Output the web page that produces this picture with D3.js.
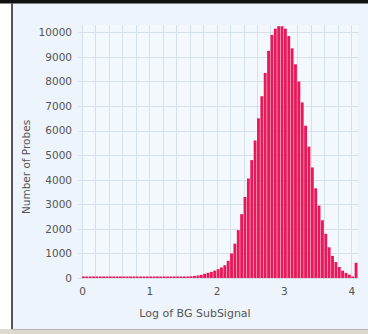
<!DOCTYPE html>
<html>
<head>
<meta charset="utf-8">
<script src="https://cdn.jsdelivr.net/npm/d3@7"></script>
<style>
html,body{margin:0;padding:0;background:#ffffff;}
svg{display:block;}
</style>
</head>
<body>
<svg id="chart" width="368" height="334"></svg>
<script>
// ---- data ----
const binWidth = 0.05;
const counts = [
  30,22,20,24,21,23,25,22,24,26,
  25,27,26,28,27,29,30,31,30,32,
  34,36,35,38,40,42,44,47,50,53,
  56,62,70,82,
  100,130,170,210,250,300,360,430,520,700,
  1000,1400,1950,2600,3300,4050,4800,5600,6500,7400,
  8350,9250,9900,10150,10250,10250,10150,9850,9350,8700,
  8000,7150,6200,5350,4500,3650,2950,2350,1800,1250,
  900,650,450,300,210,140,60,620
];
const binStarts = counts.map((c, i) => +(i * binWidth).toFixed(2));
const xTicks = [0, 1, 2, 3, 4];
const yTicks = [0,1000,2000,3000,4000,5000,6000,7000,8000,9000,10000];
const xGrid = d3.range(0, 21).map(i => +(i * 0.2).toFixed(1));
const xTitle = "Log of BG SubSignal";
const yTitle = "Number of Probes";

// ---- layout ----
const svg = d3.select("#chart");
const W = 368, H = 334;
const plot = {left: 82, right: 358, top: 25, bottom: 278};

const x = d3.scaleLinear().domain([0, 4.1]).range([plot.left, plot.right]);
const y = d3.scaleLinear().domain([0, 10300]).range([plot.bottom, plot.top]);

// frame
svg.append("rect").attr("x", 0).attr("y", 0).attr("width", W).attr("height", H).attr("fill", "#ffffff");
svg.append("rect").attr("x", 12).attr("y", 3).attr("width", W - 12).attr("height", 326)
  .attr("fill", "#edf4fb");
svg.append("rect").attr("x", 0).attr("y", 0).attr("width", W).attr("height", 3.5).attr("fill", "#111");
svg.append("line").attr("x1", 12).attr("x2", 12).attr("y1", 3).attr("y2", 329)
  .attr("stroke", "#555").attr("stroke-width", 2);
svg.append("rect").attr("x", 0).attr("y", 329).attr("width", W).attr("height", 5).attr("fill", "#ddd8d0");
svg.append("line").attr("x1", 12).attr("x2", W).attr("y1", 329.5).attr("y2", 329.5)
  .attr("stroke", "#b8b4ae").attr("stroke-width", 1);

// plot background
svg.append("rect").attr("x", plot.left).attr("y", plot.top)
  .attr("width", plot.right - plot.left).attr("height", plot.bottom - plot.top)
  .attr("fill", "#f3f8fd");

// grid
const g = svg.append("g");
g.selectAll("line.vg").data(xGrid).join("line")
  .attr("x1", d => Math.round(x(d)) + 0.5).attr("x2", d => Math.round(x(d)) + 0.5)
  .attr("y1", plot.top).attr("y2", plot.bottom)
  .attr("stroke", "#d4e0ec").attr("stroke-width", 1);
g.selectAll("line.hg").data(yTicks).join("line")
  .attr("x1", plot.left - 4).attr("x2", plot.right)
  .attr("y1", d => Math.round(y(d)) + 0.5).attr("y2", d => Math.round(y(d)) + 0.5)
  .attr("stroke", "#d4e0ec").attr("stroke-width", 1);

// bars
const bw = x(binWidth) - x(0);
svg.append("g").selectAll("rect").data(counts).join("rect")
  .attr("x", (d, i) => x(binStarts[i]))
  .attr("width", bw - 0.5)
  .attr("y", d => Math.min(y(d), plot.bottom - 1.5))
  .attr("height", d => Math.max(plot.bottom - y(d), 1.5))
  .attr("fill", "#ea1859");

// axes (labels only)
const font = "DejaVu Sans";
const yAxis = d3.axisLeft(y).tickValues(yTicks).tickSize(0).tickPadding(0).tickFormat(d3.format("d"));
const ya = svg.append("g").attr("transform", `translate(${plot.left - 10},0)`).call(yAxis);
ya.select(".domain").remove();
ya.selectAll("text").attr("font-family", font).attr("font-size", 10.5).attr("fill", "#555");

const xAxis = d3.axisBottom(x).tickValues(xTicks).tickSize(0).tickPadding(0).tickFormat(d3.format("d"));
const xa = svg.append("g").attr("transform", `translate(0,${plot.bottom + 10})`).call(xAxis);
xa.select(".domain").remove();
xa.selectAll("text").attr("font-family", font).attr("font-size", 10.5).attr("fill", "#555");

// titles
svg.append("text").attr("x", 195).attr("y", 317).attr("text-anchor", "middle")
  .attr("font-family", font).attr("font-size", 11).attr("fill", "#555").text(xTitle);
svg.append("text").attr("transform", "translate(30,167) rotate(-90)").attr("text-anchor", "middle")
  .attr("font-family", font).attr("font-size", 10.5).attr("fill", "#555").text(yTitle);
</script>
</body>
</html>
